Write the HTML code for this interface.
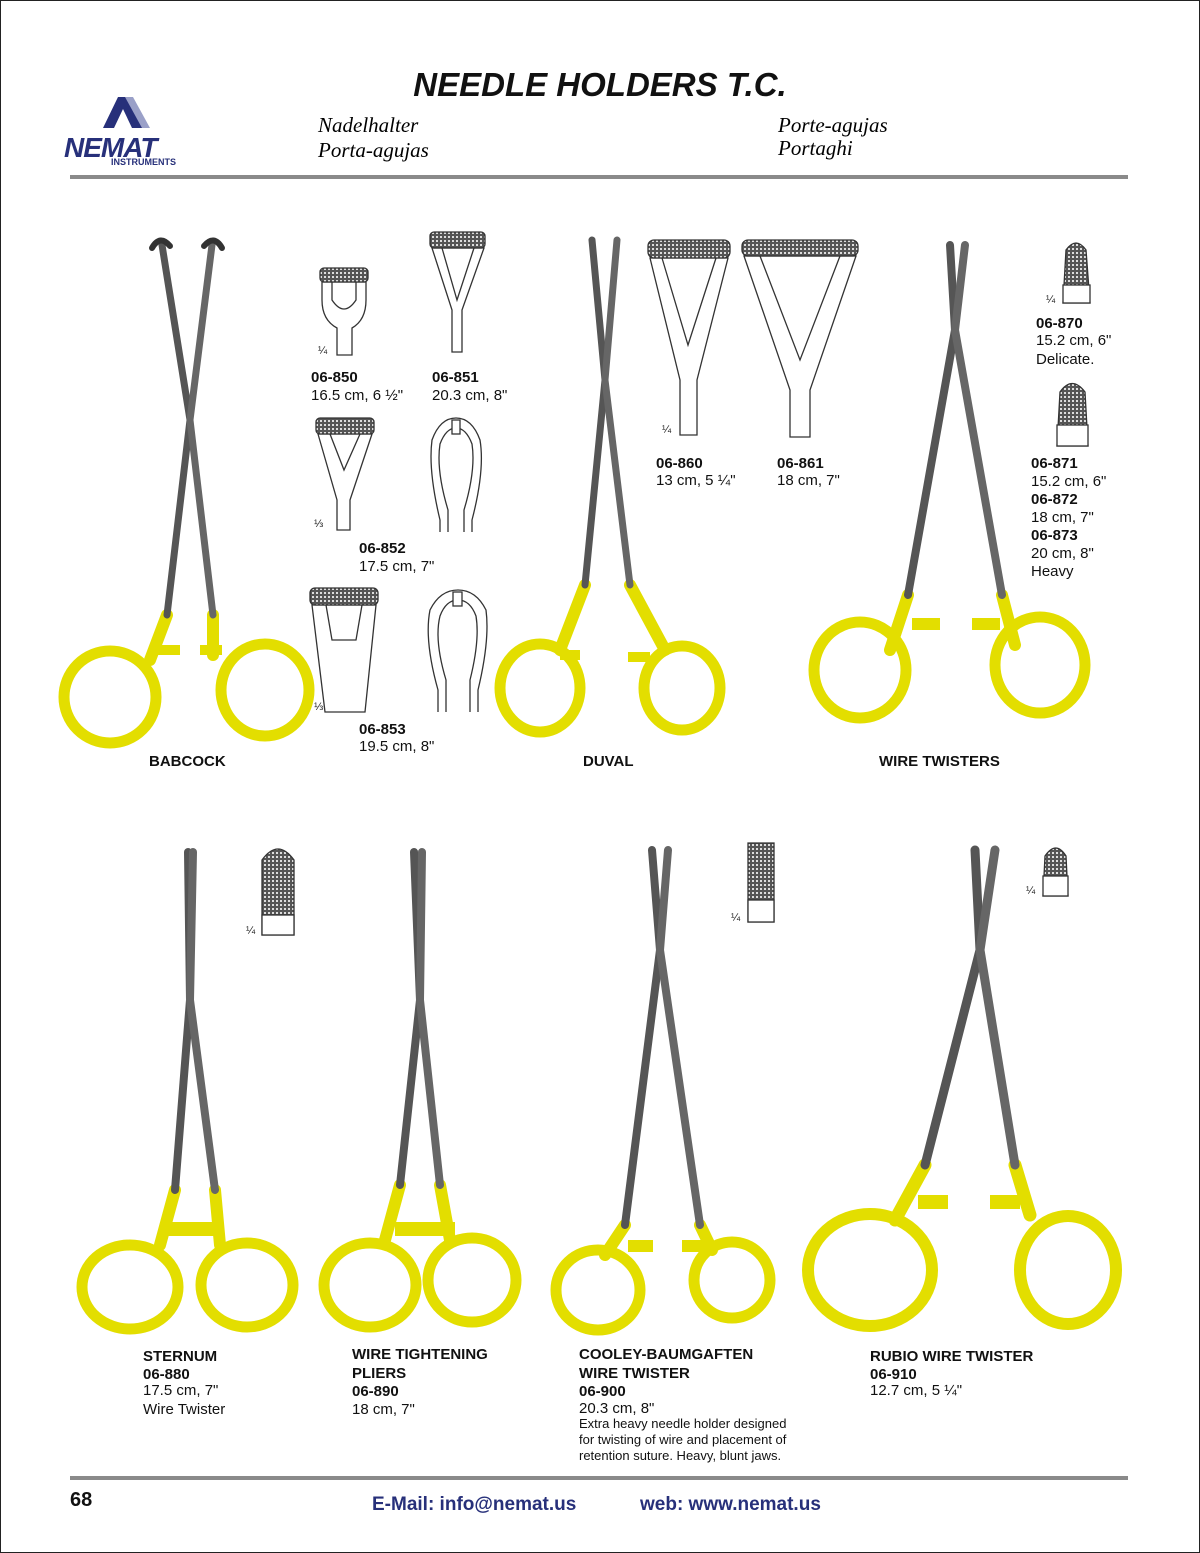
<!DOCTYPE html>
<html><head><meta charset="utf-8"><style>
html,body{margin:0;padding:0;background:#fff}
svg{display:block}
text{font-family:"Liberation Sans",Arial,sans-serif}
.b{font-weight:bold;font-size:15px}
.r{font-size:15px}
.it{font-family:"Liberation Serif",serif;font-style:italic;font-size:21px}
</style></head><body>
<svg width="1200" height="1553" viewBox="0 0 1200 1553" xmlns="http://www.w3.org/2000/svg">
<defs>
<pattern id="hx" width="4" height="4" patternUnits="userSpaceOnUse">
<rect width="4" height="4" fill="#555"/><rect width="2" height="2" fill="#ddd"/></pattern>
</defs>
<rect x="0.5" y="0.5" width="1199" height="1552" fill="#fff" stroke="#222"/>
<!-- header -->
<text x="600" y="96" text-anchor="middle" font-size="33" font-weight="bold" font-style="italic" fill="#111">NEEDLE HOLDERS T.C.</text>
<text class="it" x="318" y="132">Nadelhalter</text>
<text class="it" x="318" y="157">Porta-agujas</text>
<text class="it" x="778" y="132">Porte-agujas</text>
<text class="it" x="778" y="155">Portaghi</text>
<!-- logo -->
<polygon points="103,128 118,97 128,97 143,128 132,128 123,109 114,128" fill="#27307a"/>
<polygon points="125,97 133,97 150,128 142,128" fill="#9aa0c8"/>
<text x="64" y="157" font-size="28" font-weight="bold" font-style="italic" fill="#27307a" letter-spacing="-1">NEMAT</text>
<text x="111" y="165" font-size="9" font-weight="bold" fill="#27307a">INSTRUMENTS</text>
<rect x="70" y="175" width="1058" height="4" fill="#8a8a8a"/>
<rect x="70" y="1476" width="1058" height="4" fill="#8a8a8a"/>
<text x="70" y="1506" font-size="20" font-weight="bold" fill="#111">68</text>
<text x="372" y="1510" font-size="19" font-weight="bold" fill="#27307a">E-Mail: info@nemat.us</text>
<text x="640" y="1510" font-size="19" font-weight="bold" fill="#27307a">web: www.nemat.us</text>

<!-- instruments -->
<g fill="none" stroke-linecap="round" stroke-linejoin="round">
<!-- Babcock -->
<path d="M150,660 L167,615" stroke="#e3de00" stroke-width="12"/>
<path d="M213,655 L213,615" stroke="#e3de00" stroke-width="12"/>
<ellipse cx="110" cy="697" rx="46" ry="46" stroke="#e3de00" stroke-width="11"/>
<ellipse cx="265" cy="690" rx="44" ry="46" stroke="#e3de00" stroke-width="11"/>
<rect x="158" y="645" width="22" height="10" fill="#e3de00"/><rect x="200" y="645" width="22" height="10" fill="#e3de00"/>
<path d="M167,615 L190,420 L162,245" stroke="#555" stroke-width="7"/>
<path d="M213,615 L190,420 L212,245" stroke="#666" stroke-width="7"/>
<path d="M152,248 q8,-14 18,-2 M204,246 q10,-12 18,2" stroke="#333" stroke-width="6"/>
<!-- Duval -->
<path d="M585,585 L560,650" stroke="#e3de00" stroke-width="12"/>
<path d="M630,585 L665,650" stroke="#e3de00" stroke-width="12"/>
<ellipse cx="540" cy="688" rx="40" ry="44" stroke="#e3de00" stroke-width="11"/>
<ellipse cx="682" cy="688" rx="38" ry="42" stroke="#e3de00" stroke-width="11"/>
<rect x="560" y="650" width="20" height="10" fill="#e3de00"/><rect x="628" y="652" width="22" height="10" fill="#e3de00"/>
<path d="M585,585 L605,380 L592,240" stroke="#555" stroke-width="7"/>
<path d="M630,585 L605,380 L617,240" stroke="#666" stroke-width="7"/>
<!-- Wire twisters -->
<path d="M908,595 L890,650" stroke="#e3de00" stroke-width="12"/>
<path d="M1002,595 L1015,645" stroke="#e3de00" stroke-width="12"/>
<ellipse cx="860" cy="670" rx="46" ry="48" stroke="#e3de00" stroke-width="11"/>
<ellipse cx="1040" cy="665" rx="45" ry="48" stroke="#e3de00" stroke-width="11"/>
<rect x="912" y="618" width="28" height="12" fill="#e3de00"/><rect x="972" y="618" width="28" height="12" fill="#e3de00"/>
<path d="M908,595 L955,330 L950,245" stroke="#555" stroke-width="8"/>
<path d="M1002,595 L955,330 L965,245" stroke="#666" stroke-width="8"/>
<!-- Sternum -->
<path d="M175,1190 L160,1245 M215,1190 L220,1245" stroke="#e3de00" stroke-width="12"/>
<ellipse cx="130" cy="1287" rx="48" ry="42" stroke="#e3de00" stroke-width="11"/>
<ellipse cx="247" cy="1285" rx="46" ry="42" stroke="#e3de00" stroke-width="11"/>
<rect x="165" y="1222" width="55" height="14" fill="#e3de00"/>
<path d="M175,1190 L190,1000 L188,852" stroke="#555" stroke-width="8"/>
<path d="M215,1190 L190,1000 L193,852" stroke="#666" stroke-width="8"/>
<!-- Wire tightening -->
<path d="M400,1185 L385,1240 M440,1185 L450,1240" stroke="#e3de00" stroke-width="12"/>
<ellipse cx="370" cy="1285" rx="46" ry="42" stroke="#e3de00" stroke-width="11"/>
<ellipse cx="472" cy="1280" rx="44" ry="42" stroke="#e3de00" stroke-width="11"/>
<rect x="395" y="1222" width="60" height="14" fill="#e3de00"/>
<path d="M400,1185 L420,1000 L414,852" stroke="#555" stroke-width="8"/>
<path d="M440,1185 L420,1000 L422,852" stroke="#666" stroke-width="8"/>
<!-- Cooley -->
<path d="M625,1225 L605,1255 M700,1225 L712,1250" stroke="#e3de00" stroke-width="12"/>
<ellipse cx="598" cy="1290" rx="42" ry="40" stroke="#e3de00" stroke-width="11"/>
<ellipse cx="732" cy="1280" rx="38" ry="38" stroke="#e3de00" stroke-width="11"/>
<rect x="628" y="1240" width="25" height="12" fill="#e3de00"/><rect x="682" y="1240" width="25" height="12" fill="#e3de00"/>
<path d="M625,1225 L660,950 L652,850" stroke="#555" stroke-width="8"/>
<path d="M700,1225 L660,950 L668,850" stroke="#666" stroke-width="8"/>
<!-- Rubio -->
<path d="M925,1165 L895,1220 M1015,1165 L1030,1215" stroke="#e3de00" stroke-width="13"/>
<ellipse cx="870" cy="1270" rx="62" ry="56" stroke="#e3de00" stroke-width="12"/>
<ellipse cx="1068" cy="1270" rx="48" ry="54" stroke="#e3de00" stroke-width="12"/>
<rect x="918" y="1195" width="30" height="14" fill="#e3de00"/><rect x="990" y="1195" width="30" height="14" fill="#e3de00"/>
<path d="M925,1165 L980,950 L975,850" stroke="#555" stroke-width="9"/>
<path d="M1015,1165 L980,950 L995,850" stroke="#666" stroke-width="9"/>
</g>

<!-- jaw diagrams -->
<g stroke="#333" stroke-width="1.3" fill="#fff">
<path d="M322,282 L322,300 Q322,320 337,328 L337,355 L352,355 L352,328 Q366,320 366,300 L366,282 Z"/>
<path d="M332,282 L332,300 Q344,318 356,300 L356,282" fill="none"/>
<rect x="320" y="268" width="48" height="14" rx="4" fill="url(#hx)"/>
<path d="M432,248 L452,310 L452,352 L462,352 L462,310 L484,248 Z"/>
<path d="M442,248 L457,300 L474,248" fill="none"/>
<rect x="430" y="232" width="55" height="16" rx="4" fill="url(#hx)"/>
<path d="M318,434 L337,500 L337,530 L350,530 L350,500 L372,434 Z"/>
<path d="M330,434 L344,470 L360,434" fill="none"/>
<rect x="316" y="418" width="58" height="16" rx="4" fill="url(#hx)"/>
<path d="M440,532 L440,520 Q428,470 432,440 Q440,418 456,418 Q472,418 480,440 Q485,470 472,520 L472,532" fill="none"/>
<path d="M448,532 L448,510 Q436,470 440,444 Q446,428 456,428 Q466,428 472,444 Q476,470 464,510 L464,532" fill="none"/>
<rect x="452" y="420" width="8" height="14"/>
<path d="M312,605 L325,712 L365,712 L376,605 Z"/>
<path d="M326,605 L332,640 L356,640 L362,605" fill="none"/>
<rect x="310" y="588" width="68" height="17" rx="5" fill="url(#hx)"/>
<path d="M438,712 L438,690 Q424,640 430,610 Q440,590 458,590 Q476,590 486,610 Q490,640 478,690 L478,712" fill="none"/>
<path d="M446,712 L446,680 Q434,640 440,616 Q446,600 458,600 Q470,600 476,616 Q480,640 470,680 L470,712" fill="none"/>
<rect x="453" y="592" width="9" height="14"/>
<path d="M650,258 L680,380 L680,435 L697,435 L697,380 L728,258 Z"/>
<path d="M662,258 L688,345 L716,258" fill="none"/>
<rect x="648" y="240" width="82" height="18" rx="6" fill="url(#hx)"/>
<path d="M744,256 L790,390 L790,437 L810,437 L810,390 L856,256 Z"/>
<path d="M760,256 L800,360 L840,256" fill="none"/>
<rect x="742" y="240" width="116" height="16" rx="6" fill="url(#hx)"/>
<path d="M1063,303 L1066,250 Q1076,236 1086,250 L1090,303 Z" fill="url(#hx)"/>
<rect x="1063" y="285" width="27" height="18"/>
<path d="M1057,446 L1060,392 Q1072,375 1085,392 L1088,446 Z" fill="url(#hx)"/>
<rect x="1057" y="425" width="31" height="21"/>
<path d="M262,935 L262,860 Q278,838 294,860 L294,935 Z" fill="url(#hx)"/>
<rect x="262" y="915" width="32" height="20"/>
<path d="M748,922 L748,843 L774,843 L774,922 Z" fill="url(#hx)"/>
<rect x="748" y="900" width="26" height="22"/>
<path d="M1043,896 L1045,856 Q1056,840 1066,856 L1068,896 Z" fill="url(#hx)"/>
<rect x="1043" y="876" width="25" height="20"/>
</g>
<g font-size="11" fill="#222">
<text x="318" y="354">¼</text><text x="314" y="527">⅓</text><text x="314" y="710">⅓</text>
<text x="662" y="433">¼</text><text x="1046" y="303">¼</text>
<text x="246" y="934">¼</text><text x="731" y="921">¼</text><text x="1026" y="894">¼</text>
</g>

<!-- labels -->
<g fill="#111">
<text class="b" x="311" y="382">06-850</text><text class="r" x="311" y="400">16.5 cm, 6 ½"</text>
<text class="b" x="432" y="382">06-851</text><text class="r" x="432" y="400">20.3 cm, 8"</text>
<text class="b" x="359" y="553">06-852</text><text class="r" x="359" y="571">17.5 cm, 7"</text>
<text class="b" x="359" y="734">06-853</text><text class="r" x="359" y="751">19.5 cm, 8"</text>
<text class="b" x="656" y="468">06-860</text><text class="r" x="656" y="485">13 cm, 5 ¼"</text>
<text class="b" x="777" y="468">06-861</text><text class="r" x="777" y="485">18 cm, 7"</text>
<text class="b" x="1036" y="328">06-870</text><text class="r" x="1036" y="345">15.2 cm, 6"</text><text class="r" x="1036" y="364">Delicate.</text>
<text class="b" x="1031" y="468">06-871</text><text class="r" x="1031" y="486">15.2 cm, 6"</text>
<text class="b" x="1031" y="504">06-872</text><text class="r" x="1031" y="522">18 cm, 7"</text>
<text class="b" x="1031" y="540">06-873</text><text class="r" x="1031" y="558">20 cm, 8"</text>
<text class="r" x="1031" y="576">Heavy</text>
<text class="b" x="149" y="766">BABCOCK</text>
<text class="b" x="583" y="766">DUVAL</text>
<text class="b" x="879" y="766">WIRE TWISTERS</text>
<text class="b" x="143" y="1361">STERNUM</text><text class="b" x="143" y="1379">06-880</text>
<text class="r" x="143" y="1395">17.5 cm, 7"</text><text class="r" x="143" y="1414">Wire Twister</text>
<text class="b" x="352" y="1359">WIRE TIGHTENING</text><text class="b" x="352" y="1378">PLIERS</text>
<text class="b" x="352" y="1396">06-890</text><text class="r" x="352" y="1414">18 cm, 7"</text>
<text class="b" x="579" y="1359">COOLEY-BAUMGAFTEN</text><text class="b" x="579" y="1378">WIRE TWISTER</text>
<text class="b" x="579" y="1396">06-900</text><text class="r" x="579" y="1413">20.3 cm, 8"</text>
<text x="579" y="1428" font-size="13">Extra heavy needle holder designed</text>
<text x="579" y="1444" font-size="13">for twisting of wire and placement of</text>
<text x="579" y="1460" font-size="13">retention suture. Heavy, blunt jaws.</text>
<text class="b" x="870" y="1361">RUBIO WIRE TWISTER</text><text class="b" x="870" y="1379">06-910</text>
<text class="r" x="870" y="1395">12.7 cm, 5 ¼"</text>
</g>
</svg>
</body></html>
